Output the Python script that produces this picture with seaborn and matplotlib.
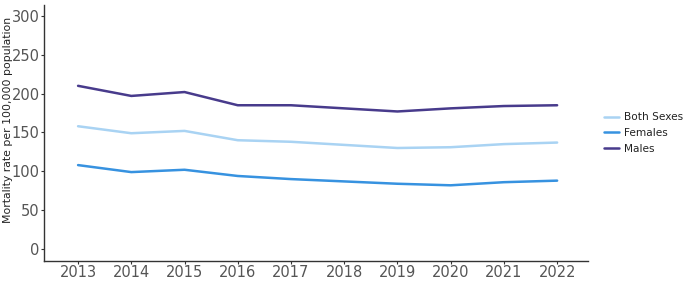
import matplotlib
matplotlib.use("Agg")
import matplotlib.pyplot as plt
import seaborn as sns
import pandas as pd

years = [2013, 2014, 2015, 2016, 2017, 2018, 2019, 2020, 2021, 2022]
both_sexes = [158, 149, 152, 140, 138, 134, 130, 131, 135, 137]
females = [108, 99, 102, 94, 90, 87, 84, 82, 86, 88]
males = [210, 197, 202, 185, 185, 181, 177, 181, 184, 185]
series_names = ["Both Sexes", "Females", "Males"]
colors = ["#a9d3f3", "#3792e0", "#483b8c"]

df = pd.DataFrame({
    "Year": years * 3,
    "Rate": both_sexes + females + males,
    "Sex": [series_names[0]] * 10 + [series_names[1]] * 10 + [series_names[2]] * 10,
})

sns.set_style("white")
fig = plt.figure(figsize=(6.9, 2.93), dpi=100)
ax = fig.add_axes([44/690, 32/293, 544/690, 256/293])
sns.lineplot(data=df, x="Year", y="Rate", hue="Sex", palette=colors,
             hue_order=series_names, linewidth=1.8, ax=ax)

ax.set_xlim(2012.36, 2022.58)
ax.set_ylim(-15.4, 314)
ax.set_xticks(years)
ax.set_yticks([0, 50, 100, 150, 200, 250, 300])
ax.set_xlabel("")
ax.set_ylabel("Mortality rate per 100,000 population", fontsize=7.8, color="#222222")
ax.yaxis.set_label_coords(-0.057, 0.55)
ax.tick_params(axis="both", labelsize=10.5, labelcolor="#555555", color="#333333",
               length=2, width=0.8, pad=1.2, left=True, bottom=True)
for s in ["top", "right"]:
    ax.spines[s].set_visible(False)
for s in ["left", "bottom"]:
    ax.spines[s].set_color("#333333")
    ax.spines[s].set_linewidth(1.0)

leg = ax.legend(loc="center left", bbox_to_anchor=(1.022, 0.5), frameon=False,
                borderaxespad=0, fontsize=7.6, handlelength=1.4, handletextpad=0.5,
                labelspacing=0.55, title=None)
for t in leg.get_texts():
    t.set_color("#222222")

fig.savefig("out.png", dpi=100)
